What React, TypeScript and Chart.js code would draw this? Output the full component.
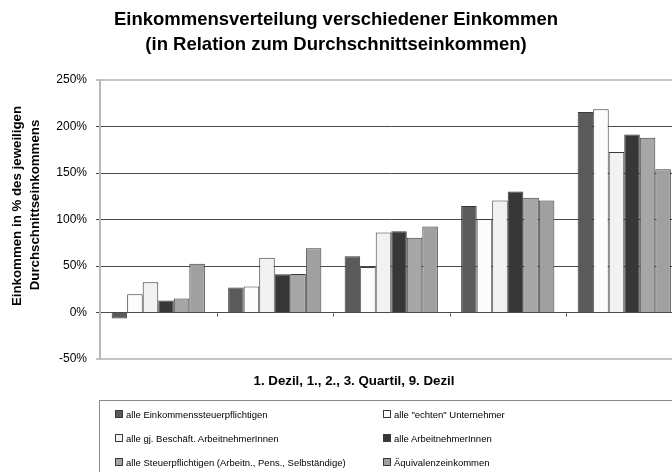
import React, { useEffect, useRef } from "react";
import { Chart, registerables } from "chart.js";

Chart.register(...registerables);

const categories = ["1. Dezil", "1. Quartil", "2. Quartil", "3. Quartil", "9. Dezil"];
const seriesLabels = [
  "alle Einkommenssteuerpflichtigen",
  'alle "echten" Unternehmer',
  "alle gj. Beschäft. ArbeitnehmerInnen",
  "alle ArbeitnehmerInnen",
  "alle Steuerpflichtigen (Arbeitn., Pens., Selbständige)",
  "Äquivalenzeinkommen",
];
const einkommensteuerpflichtige = [-6.5, 27, 60.5, 114.5, 215.5];
const echteUnternehmer = [19.5, 28, 49, 100.5, 218.5];
const gjBeschaeftigte = [32.5, 59, 86, 120.5, 172.5];
const arbeitnehmer = [13, 41, 87.5, 130, 191.5];
const steuerpflichtige = [15, 41.5, 80.5, 123.5, 188];
const aequivalenz = [52.5, 69, 92.5, 120.5, 154];
const seriesValues = [
  einkommensteuerpflichtige,
  echteUnternehmer,
  gjBeschaeftigte,
  arbeitnehmer,
  steuerpflichtige,
  aequivalenz,
];
const seriesColors = ["#5a5a5a", "#fcfcfc", "#f2f2f2", "#373737", "#a6a6a6", "#a0a0a0"];
const yTicks = [-50, 0, 50, 100, 150, 200, 250];

const titleLines = [
  "Einkommensverteilung verschiedener Einkommen",
  "(in Relation zum Durchschnittseinkommen)",
];
const yTitleLines = ["Einkommen in % des jeweiligen", "Durchschnittseinkommens"];
const xTitle = "1. Dezil, 1., 2., 3. Quartil, 9. Dezil";

const textPlugin = {
  id: "customText",
  afterDraw(chart: any) {
    const ctx = chart.ctx;
    ctx.save();
    ctx.fillStyle = "#000";
    ctx.textAlign = "center";
    ctx.textBaseline = "middle";
    ctx.font = "bold 18.5px Arial, 'Liberation Sans', sans-serif";
    ctx.fillText(titleLines[0], 336, 20);
    ctx.fillText(titleLines[1], 336, 45);

    ctx.font = "bold 13.3px Arial, 'Liberation Sans', sans-serif";
    ctx.fillText(xTitle, 354, 381);

    ctx.save();
    ctx.translate(17, 206);
    ctx.rotate(-Math.PI / 2);
    ctx.fillText(yTitleLines[0], 0, 0);
    ctx.restore();
    ctx.save();
    ctx.translate(35, 205);
    ctx.rotate(-Math.PI / 2);
    ctx.fillText(yTitleLines[1], 0, 0);
    ctx.restore();

    // small category separator tick marks below the zero line
    const xs = chart.scales.x;
    const ys = chart.scales.y;
    const y0 = Math.round(ys.getPixelForValue(0)) + 0.5;
    ctx.strokeStyle = "#444";
    ctx.lineWidth = 1;
    for (let i = 0; i < categories.length - 1; i++) {
      const px = Math.round((xs.getPixelForValue(i) + xs.getPixelForValue(i + 1)) / 2) + 0.5;
      ctx.beginPath();
      ctx.moveTo(px, y0);
      ctx.lineTo(px, y0 + 3);
      ctx.stroke();
    }
    ctx.restore();
  },
};

export default function App() {
  const canvasRef = useRef<HTMLCanvasElement | null>(null);

  useEffect(() => {
    if (!canvasRef.current) return;
    const chart = new Chart(canvasRef.current, {
      type: "bar",
      data: {
        labels: categories,
        datasets: seriesLabels.map((label, i) => ({
          label,
          data: seriesValues[i],
          backgroundColor: seriesColors[i],
          borderColor: "#3a3a3a",
          borderWidth: 1,
          categoryPercentage: 0.8,
          barPercentage: 1.0,
        })),
      },
      options: {
        animation: false,
        responsive: false,
        maintainAspectRatio: false,
        devicePixelRatio: 1,
        layout: { padding: { top: 80, left: 0, right: 17.5, bottom: 103 } },
        plugins: {
          legend: { display: false },
          title: { display: false },
          tooltip: { enabled: false },
        },
        scales: {
          x: {
            ticks: { display: false },
            grid: { display: false, drawTicks: false },
            border: { display: false },
            afterFit: (s: any) => {
              s.height = 10;
            },
          },
          y: {
            min: -50,
            max: 250,
            afterBuildTicks: (s: any) => {
              s.ticks = yTicks.map((v) => ({ value: v }));
            },
            ticks: {
              callback: (v: any) => v + "%",
              color: "#000",
              font: { family: "Arial, 'Liberation Sans', sans-serif", size: 12 },
              padding: 9,
            },
            grid: {
              color: (c: any) =>
                c.tick && (c.tick.value === 250 || c.tick.value === -50) ? "#c4c4c4" : "#4a4a4a",
              lineWidth: (c: any) =>
                c.tick && (c.tick.value === 250 || c.tick.value === -50) ? 2 : 1,
              tickLength: 4,
            },
            border: { display: true, color: "#b8b8b8", width: 2 },
            afterFit: (s: any) => {
              s.width = 100;
            },
          },
        },
      },
      plugins: [textPlugin],
    });
    return () => chart.destroy();
  }, []);

  const legendFont = "Arial, 'Liberation Sans', sans-serif";
  return (
    <div
      style={{
        position: "absolute",
        left: 0,
        top: 0,
        width: 672,
        height: 472,
        overflow: "hidden",
        background: "#fff",
      }}
    >
      <canvas
        ref={canvasRef}
        width={700}
        height={472}
        style={{ position: "absolute", left: 0, top: 0, width: 700, height: 472 }}
      />
      <div
        style={{
          position: "absolute",
          left: 99,
          top: 400,
          width: 640,
          height: 120,
          border: "1px solid #8a8a8a",
          boxSizing: "border-box",
        }}
      >
        {seriesLabels.map((label, i) => {
          const col = i % 2;
          const row = Math.floor(i / 2);
          return (
            <div
              key={label}
              style={{
                position: "absolute",
                left: col === 0 ? 15 : 283,
                top: 6 + row * 24,
                height: 14,
                display: "flex",
                alignItems: "center",
                whiteSpace: "nowrap",
                fontFamily: legendFont,
                fontSize: 9.5,
                color: "#000",
              }}
            >
              <span
                style={{
                  display: "inline-block",
                  width: 6,
                  height: 6,
                  background: seriesColors[i],
                  border: "1px solid #3a3a3a",
                  marginRight: 3,
                }}
              />
              {label}
            </div>
          );
        })}
      </div>
    </div>
  );
}
